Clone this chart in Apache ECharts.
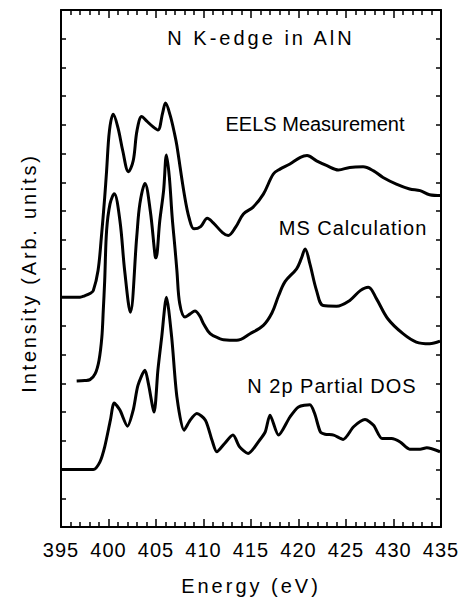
<!DOCTYPE html>
<html>
<head>
<meta charset="utf-8">
<script src="https://cdn.jsdelivr.net/npm/echarts@6/dist/echarts.min.js"></script>
<style>
html,body{margin:0;padding:0;background:#fff;}
#chart{width:463px;height:601px;}
</style>
</head>
<body>
<div id="chart"></div>
<script>
// ---- data (energy in eV, intensity in arbitrary units / offset) ----
const xTicks = [395, 400, 405, 410, 415, 420, 425, 430, 435];

const eelsE = [395.0, 396.0, 397.0, 397.5, 398.1, 398.4, 398.9, 399.25, 399.6, 399.8, 400.1, 400.5, 401.0, 401.5, 402.1, 402.6, 403.0, 403.5, 404.0, 404.7, 405.2, 405.7, 406.0, 406.5, 407.0, 407.2, 408.0, 408.5, 409.0, 409.7, 410.4, 411.0, 412.0, 412.6, 413.4, 414.2, 415.2, 416.3, 417.35, 418.05, 419.1, 420.2, 420.9, 421.9, 423.0, 424.2, 425.4, 426.8, 427.9, 428.9, 430.3, 431.7, 432.8, 433.8, 435.0];
const eelsI = [8.0, 8.0, 8.0, 8.05, 8.14, 8.23, 8.93, 10.09, 11.48, 12.4, 13.8, 14.37, 13.9, 13.1, 12.37, 12.75, 13.8, 14.29, 14.14, 13.93, 13.82, 14.42, 14.76, 14.32, 13.62, 13.27, 11.54, 10.74, 10.38, 10.46, 10.75, 10.6, 10.25, 10.15, 10.45, 10.9, 11.13, 11.59, 12.29, 12.46, 12.64, 12.87, 12.93, 12.75, 12.58, 12.43, 12.52, 12.54, 12.4, 12.17, 11.94, 11.77, 11.71, 11.57, 11.54];

const msE = [396.65, 397.5, 398.05, 398.6, 399.0, 399.3, 399.45, 399.6, 399.8, 400.16, 400.6, 401.2, 401.7, 402.3, 402.97, 403.3, 403.84, 404.4, 404.9, 405.0, 405.4, 405.8, 406.1, 406.4, 406.7, 407.0, 407.2, 407.5, 408.05, 408.6, 409.1, 409.6, 410.0, 410.7, 411.7, 412.1, 413.5, 414.9, 416.3, 417.2, 417.9, 418.6, 419.8, 420.3, 420.7, 421.2, 421.9, 422.6, 424.0, 425.4, 426.5, 427.35, 428.2, 429.4, 431.0, 432.4, 433.8, 434.9];
const msI = [5.08, 5.1, 5.13, 5.34, 5.8, 6.61, 7.54, 8.58, 10.32, 11.25, 11.6, 10.67, 8.93, 7.48, 10.09, 11.25, 11.96, 11.0, 9.45, 9.37, 10.67, 11.71, 12.95, 12.2, 10.8, 9.7, 8.93, 7.77, 7.31, 7.42, 7.52, 7.35, 7.08, 6.73, 6.56, 6.52, 6.5, 6.73, 7.02, 7.45, 8.05, 8.55, 8.99, 9.35, 9.68, 9.16, 8.23, 7.71, 7.69, 7.89, 8.23, 8.35, 7.95, 7.25, 6.73, 6.44, 6.38, 6.47];

const dosE = [395.0, 398.4, 399.1, 399.6, 400.2, 400.6, 401.2, 402.0, 402.6, 403.1, 403.84, 404.2, 404.8, 405.2, 405.6, 406.1, 406.65, 407.2, 407.95, 408.6, 409.3, 410.2, 410.9, 411.4, 412.2, 413.1, 413.8, 414.7, 415.9, 416.5, 417.0, 417.9, 419.1, 420.0, 421.2, 421.7, 422.3, 422.8, 423.7, 424.7, 425.8, 427.0, 427.9, 428.8, 429.8, 430.7, 431.7, 432.8, 433.5, 434.9];
const dosI = [2.0, 2.0, 2.27, 2.79, 3.72, 4.32, 4.07, 3.51, 4.07, 4.93, 5.46, 4.99, 4.0, 5.46, 6.61, 8.0, 6.61, 4.53, 3.37, 3.72, 3.95, 3.72, 3.02, 2.62, 2.9, 3.2, 2.79, 2.56, 3.02, 3.31, 3.89, 3.2, 3.83, 4.18, 4.26, 3.95, 3.31, 3.23, 3.2, 3.05, 3.49, 3.74, 3.54, 3.08, 3.08, 2.96, 2.71, 2.71, 2.76, 2.62];

const titleText = 'N K-edge in AlN';
const seriesNames = ['EELS Measurement', 'MS Calculation', 'N 2p Partial DOS'];
const xName = 'Energy (eV)';
const yName = 'Intensity (Arb. units)';

// ---- build ----
function zip(a, b) { return a.map((v, i) => [v, b[i]]); }
const FONT = '"Liberation Sans", Arial, Helvetica, sans-serif';

const chart = echarts.init(document.getElementById('chart'), null, { renderer: 'svg' });

const letterSpacing = {};
letterSpacing[titleText] = '3px';
letterSpacing[xName] = '3px';
letterSpacing[yName] = '2.8px';
letterSpacing[seriesNames[1]] = '1px';
letterSpacing[seriesNames[2]] = '1px';
xTicks.forEach(t => { letterSpacing[String(t)] = '1px'; });

chart.on('finished', function () {
  const texts = document.querySelectorAll('#chart svg text');
  texts.forEach(el => {
    const s = letterSpacing[el.textContent];
    if (s) el.style.letterSpacing = s;
  });
});

const tickStyle = { color: '#000', width: 1.5 };
function xAxisCfg(pos, showLabel) {
  return {
    type: 'value', position: pos, min: 395, max: 435, interval: 5,
    axisLine: { show: true, onZero: false, lineStyle: { color: '#000', width: 2 } },
    axisTick: { show: true, inside: true, length: 8, lineStyle: tickStyle },
    minorTick: { show: true, splitNumber: 5, length: 5, lineStyle: tickStyle },
    splitLine: { show: false },
    axisLabel: { show: showLabel, color: '#000', fontSize: 20, fontFamily: FONT, margin: 13 }
  };
}
function yAxisCfg(pos) {
  return {
    type: 'value', position: pos, min: 0, max: 18, interval: 1,
    axisLine: { show: true, onZero: false, lineStyle: { color: '#000', width: 2 } },
    axisTick: { show: true, inside: true, length: 5, lineStyle: tickStyle },
    splitLine: { show: false },
    axisLabel: { show: false }
  };
}
function lineSeries(name, e, v, smooth) {
  return {
    name: name, type: 'line', data: zip(e, v), showSymbol: false, symbol: 'none',
    smooth: smooth, xAxisIndex: 0, yAxisIndex: 0,
    lineStyle: { color: '#000', width: 3 }, animation: false
  };
}
function label(text, x, y, extra) {
  return Object.assign({
    type: 'text', x: x, y: y, silent: true,
    style: { text: text, fill: '#000', font: '20px ' + FONT, align: 'center', verticalAlign: 'middle' }
  }, extra || {});
}

chart.setOption({
  animation: false,
  backgroundColor: '#fff',
  grid: { left: 61, top: 10, right: 22, bottom: 74, containLabel: false },
  xAxis: [xAxisCfg('bottom', true), xAxisCfg('top', false)],
  yAxis: [yAxisCfg('left'), yAxisCfg('right')],
  series: [
    lineSeries(seriesNames[0], eelsE, eelsI, 0.35),
    lineSeries(seriesNames[1], msE, msI, 0.35),
    lineSeries(seriesNames[2], dosE, dosI, 0.25)
  ],
  graphic: [
    label(titleText, 261, 38),
    label(seriesNames[0], 315, 124),
    label(seriesNames[1], 353, 228),
    label(seriesNames[2], 332, 385.5),
    label(xName, 251, 586),
    label(yName, 29, 273, { rotation: Math.PI / 2 })
  ]
});
</script>
</body>
</html>
